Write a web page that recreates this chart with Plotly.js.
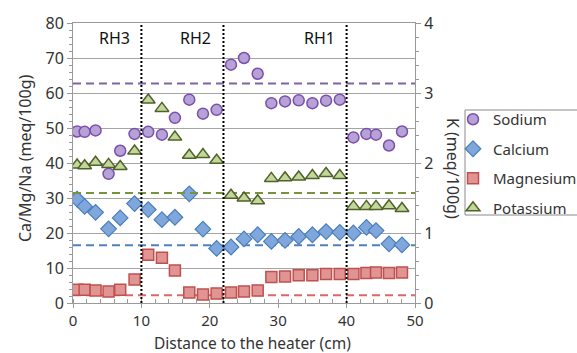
<!DOCTYPE html>
<html>
<head>
<meta charset="utf-8">
<script src="https://cdn.plot.ly/plotly-3.0.1.min.js"></script>
<style>html,body{margin:0;padding:0;background:#fff;}#chart{width:577px;height:353px;}</style>
</head>
<body>
<div id="chart"></div>
<script>
// Distance to the heater (cm)
const distance = [0.6,1.7,3.3,5.2,6.9,9.0, 11.0,13.0,14.9,17.0,19.0,21.0, 23.1,25.0,27.0,29.0,31.0,33.0,35.0,37.0,39.0, 41.0,42.9,44.3,46.2,48.1];
// meq/100g (left axis)
const sodium    = [49.0,48.9,49.3,36.9,43.5,48.3, 48.9,48.1,52.9,58.1,54.1,55.2, 68.1,70.0,65.5,57.1,57.6,57.9,57.1,57.8,58.1, 47.3,48.3,48.1,45.0,49.0];
const calcium   = [29.7,27.6,25.9,21.2,24.3,28.4, 26.7,23.8,24.5,31.2,21.1,15.6, 16.0,18.3,19.5,17.6,17.9,19.0,19.5,20.4,20.2, 20.0,21.6,20.7,16.9,16.6];
const magnesium = [3.8,3.8,3.6,3.3,3.8,6.7, 13.8,12.9,9.3,3.0,2.4,2.7, 3.0,3.3,3.6,7.4,7.6,7.9,7.9,8.3,8.3, 8.3,8.6,8.7,8.6,8.7];
// meq/100g (right axis)
const potassium = [1.97,1.96,2.01,1.98,1.95,2.17, 2.90,2.78,2.37,2.11,2.12,2.04, 1.54,1.50,1.46,1.78,1.79,1.80,1.82,1.85,1.82, 1.38,1.38,1.38,1.39,1.35];
// Reference (initial) values shown as dashed lines
const refX = [0, 50];
const sodiumRef = 62.7, calciumRef = 16.5, magnesiumRef = 2.2, potassiumRef = 1.57;
// Zone boundaries and labels
const zoneBounds = [10, 22, 40];
const zoneLabels = ["RH3", "RH2", "RH1"];
const zoneLabelX = [6.1, 17.9, 36.1];

const FONT = "Noto Sans, DejaVu Sans, sans-serif";
const TXT = "#333333";
const FS = 16;
const dashStyle = "8px,5px";

// plot-area geometry helpers (pixels -> paper fraction)
const L = 73, R = 162, T = 23, B = 50, W = 577, H = 353;
const pw = W - L - R, ph = H - T - B;
const px = x => (x - L) / pw;
const py = y => (H - B - y) / ph;

const traces = [
  {x: refX, y: [sodiumRef, sodiumRef], mode: "lines", line: {color: "#8064A2", width: 2, dash: dashStyle}, showlegend: false, hoverinfo: "skip"},
  {x: refX, y: [calciumRef, calciumRef], mode: "lines", line: {color: "#4F81BD", width: 2, dash: dashStyle}, showlegend: false, hoverinfo: "skip"},
  {x: refX, y: [magnesiumRef, magnesiumRef], mode: "lines", line: {color: "#E06666", width: 2, dash: dashStyle}, showlegend: false, hoverinfo: "skip"},
  {x: refX, y: [potassiumRef, potassiumRef], yaxis: "y2", mode: "lines", line: {color: "#77933C", width: 2, dash: dashStyle}, showlegend: false, hoverinfo: "skip"},
  {x: distance, y: sodium, name: "Sodium", mode: "markers", legendgroup: "a",
   marker: {symbol: "circle", size: 11, color: "#B7A2D6", line: {color: "#7A4FAE", width: 1.5}}},
  {x: distance, y: calcium, name: "Calcium", mode: "markers", legendgroup: "b",
   marker: {symbol: "diamond", size: 12, color: "#7FA7DB", line: {color: "#4A7EBB", width: 1.2}}},
  {x: distance, y: magnesium, name: "Magnesium", mode: "markers", legendgroup: "c",
   marker: {symbol: "square", size: 11, color: "#E09494", line: {color: "#C0504D", width: 1.5}}},
  {x: distance, y: potassium, name: "Potassium", mode: "markers", yaxis: "y2", legendgroup: "d",
   marker: {symbol: "triangle-up", size: 12, color: "#C3D69B", line: {color: "#4F6228", width: 1.5}}}
];

const shapes = zoneBounds.map(b => ({
  type: "line", xref: "x", yref: "y", x0: b, x1: b, y0: 0, y1: 80,
  line: {color: "#000000", width: 2, dash: "2px,2px"}, layer: "above"
}));
// legend frame
shapes.push({type: "rect", xref: "paper", yref: "paper", x0: px(465), x1: px(600), y0: py(215), y1: py(110),
  line: {color: "#8a8a8a", width: 1}, fillcolor: "rgba(0,0,0,0)", layer: "below"});

const annotations = zoneLabels.map((t, i) => ({
  text: t, x: zoneLabelX[i], y: 75.7, xref: "x", yref: "y", showarrow: false,
  xanchor: "center", yanchor: "middle",
  font: {family: FONT, size: FS, color: "#111111"}
}));
annotations.push({
  text: "K (meq/100g)", xref: "paper", yref: "paper", x: px(453), y: py(168),
  xanchor: "center", yanchor: "middle",
  showarrow: false, textangle: 90, font: {family: FONT, size: FS, color: TXT}
});
annotations.push({
  text: "Ca/Mg/Na (meq/100g)", xref: "paper", yref: "paper", x: px(25), y: py(158),
  xanchor: "center", yanchor: "middle",
  showarrow: false, textangle: -90, font: {family: FONT, size: FS, color: TXT}
});
annotations.push({
  text: "Distance to the heater (cm)", xref: "paper", yref: "paper", x: px(252), y: py(343),
  xanchor: "center", yanchor: "middle",
  showarrow: false, font: {family: FONT, size: 15.5, color: TXT}
});

const layout = {
  width: W, height: H,
  margin: {l: L, r: R, t: T, b: B, pad: 0, autoexpand: false},
  paper_bgcolor: "#ffffff", plot_bgcolor: "#ffffff",
  font: {family: FONT, size: FS, color: TXT},
  xaxis: {
    range: [0, 50], dtick: 10, tick0: 0, showgrid: false, zeroline: false,
    showline: true, linecolor: "#9a9a9a", linewidth: 1, mirror: true,
    ticks: "outside", ticklen: 4, tickcolor: "#9a9a9a",
    minor: {dtick: 2, ticks: "inside", ticklen: 4, tickcolor: "#9a9a9a"},
    tickfont: {family: FONT, size: 15, color: TXT}
  },
  yaxis: {
    range: [0, 80], dtick: 10, tick0: 0, showgrid: true, gridcolor: "#a6a6a6", gridwidth: 1, zeroline: false,
    showline: true, linecolor: "#9a9a9a", linewidth: 1,
    ticks: "outside", ticklen: 5, tickcolor: "#9a9a9a",
    minor: {dtick: 2, ticks: "outside", ticklen: 3, tickcolor: "#9a9a9a", showgrid: false},
    tickfont: {family: FONT, size: FS, color: TXT}
  },
  yaxis2: {
    overlaying: "y", side: "right", range: [0, 4], dtick: 1, tick0: 0, showgrid: false, zeroline: false,
    showline: true, linecolor: "#9a9a9a", linewidth: 1,
    ticks: "outside", ticklen: 5, tickcolor: "#9a9a9a",
    minor: {dtick: 0.2, ticks: "outside", ticklen: 3, tickcolor: "#9a9a9a", showgrid: false},
    tickfont: {family: FONT, size: FS, color: TXT}
  },
  legend: {
    x: px(453), y: py(103), xanchor: "left", yanchor: "top",
    borderwidth: 0, bgcolor: "rgba(0,0,0,0)",
    font: {family: FONT, size: 15, color: TXT},
    tracegroupgap: 7, itemwidth: 30
  },
  shapes: shapes,
  annotations: annotations,
  showlegend: true
};

Plotly.newPlot("chart", traces, layout, {displayModeBar: false, staticPlot: true});
</script>
</body>
</html>
